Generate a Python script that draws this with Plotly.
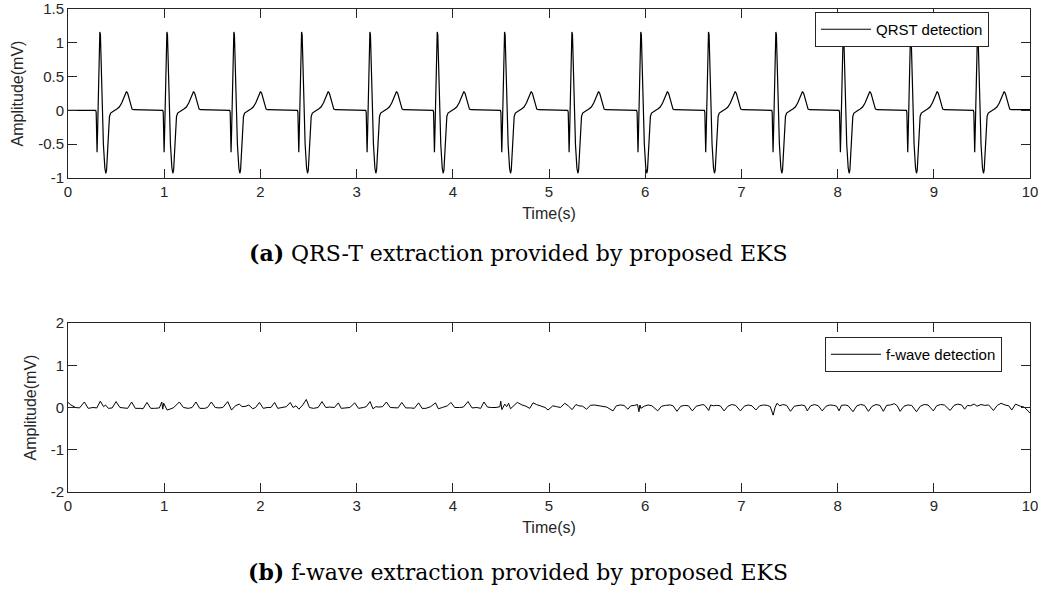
import plotly.graph_objects as go

# ---------------- data ----------------
# R-peak times of the 14 extracted QRS-T complexes (s)
beat_times = [0.333, 1.03, 1.726, 2.43, 3.14, 3.84, 4.54, 5.24, 5.956, 6.66, 7.36, 8.06, 8.76, 9.456]
# one complex, sampled relative to its R peak (s) and its amplitude (mV)
beat_offsets = [-0.060, -0.045, -0.040, -0.036, -0.031, -0.026, -0.018, -0.008, -0.002, 0.004,
                0.012, 0.022, 0.035, 0.050, 0.060, 0.068, 0.078, 0.088, 0.098, 0.110,
                0.125, 0.150, 0.175, 0.200, 0.225, 0.245, 0.262, 0.275, 0.288, 0.303,
                0.318, 0.333, 0.350]
beat_values = [0.0, 0.0, -0.03, -0.25, -0.62, -0.35, 0.30, 0.95, 1.16, 1.12,
               0.60, 0.0, -0.50, -0.85, -0.93, -0.88, -0.55, -0.22, -0.09, -0.04,
               -0.02, 0.00, 0.02, 0.05, 0.11, 0.19, 0.26, 0.28, 0.25, 0.16,
               0.07, 0.02, 0.01]

# f-wave trace vertices (s, mV)
fwave_t = [0.00, 0.03, 0.08, 0.12, 0.17, 0.21, 0.26, 0.30, 0.336, 0.37, 0.39, 0.42, 0.46, 0.499,
           0.54, 0.58, 0.62, 0.662, 0.70, 0.75, 0.78, 0.821, 0.86, 0.90, 0.95, 0.975, 0.985, 0.995,
           1.03, 1.07, 1.10, 1.157, 1.20, 1.25, 1.29, 1.33, 1.37, 1.42, 1.45, 1.49, 1.53, 1.57,
           1.61, 1.66, 1.70, 1.74, 1.78, 1.81, 1.85, 1.88, 1.92, 1.95, 1.99, 2.03, 2.07, 2.11,
           2.148, 2.18, 2.23, 2.27, 2.31, 2.34, 2.37, 2.40, 2.44, 2.477, 2.51, 2.55, 2.60, 2.64,
           2.68, 2.72, 2.77, 2.81, 2.84, 2.89, 2.93, 2.98, 3.02, 3.07, 3.10, 3.14, 3.17, 3.20,
           3.23, 3.27, 3.31, 3.35, 3.40, 3.43, 3.47, 3.51, 3.56, 3.60, 3.645, 3.68, 3.72, 3.77,
           3.82, 3.85, 3.89, 3.92, 3.945, 3.98, 4.02, 4.07, 4.11, 4.158, 4.20, 4.25, 4.29, 4.324,
           4.36, 4.40, 4.45, 4.49, 4.498, 4.51, 4.54, 4.56, 4.58, 4.60, 4.63, 4.67, 4.72, 4.76,
           4.80, 4.834, 4.87, 4.92, 4.96, 4.99, 5.04, 5.08, 5.12, 5.163, 5.20, 5.24, 5.28, 5.31,
           5.35, 5.39, 5.43, 5.47, 5.51, 5.55, 5.60, 5.665, 5.70, 5.74, 5.78, 5.82, 5.85, 5.89,
           5.92, 5.935, 5.945, 5.955, 5.99, 6.03, 6.07, 6.13, 6.17, 6.21, 6.26, 6.29, 6.33, 6.37,
           6.41, 6.45, 6.49, 6.53, 6.57, 6.60, 6.62, 6.66, 6.68, 6.71, 6.74, 6.78, 6.82, 6.86,
           6.90, 6.94, 6.99, 7.03, 7.07, 7.11, 7.15, 7.19, 7.23, 7.27, 7.30, 7.33, 7.35, 7.37,
           7.40, 7.43, 7.47, 7.51, 7.55, 7.59, 7.63, 7.66, 7.685, 7.72, 7.76, 7.80, 7.84, 7.88,
           7.92, 7.96, 7.99, 8.015, 8.04, 8.08, 8.11, 8.16, 8.20, 8.24, 8.28, 8.32, 8.36, 8.40,
           8.44, 8.475, 8.51, 8.55, 8.59, 8.62, 8.65, 8.69, 8.73, 8.77, 8.82, 8.86, 8.90, 8.94,
           8.995, 9.03, 9.07, 9.11, 9.17, 9.21, 9.25, 9.29, 9.32, 9.35, 9.38, 9.42, 9.45, 9.49,
           9.53, 9.57, 9.62, 9.66, 9.70, 9.74, 9.78, 9.81, 9.85, 9.90, 9.94, 10.0]
fwave_v = [0.12, 0.06, 0.00, -0.01, 0.13, -0.02, 0.00, -0.01, 0.15, 0.02, 0.06, -0.02, -0.01, 0.14,
           0.00, -0.01, -0.02, 0.13, -0.02, -0.02, -0.03, 0.12, -0.02, -0.02, -0.01, 0.13, -0.04, 0.10,
           -0.06, -0.03, 0.00, 0.13, 0.00, -0.02, 0.00, 0.13, -0.02, -0.02, 0.00, 0.13, 0.00, -0.01,
           0.00, 0.14, -0.06, 0.04, 0.08, 0.02, 0.03, 0.06, -0.03, 0.00, 0.12, -0.02, 0.00, 0.00,
           0.12, -0.02, 0.00, 0.02, 0.12, 0.00, 0.04, -0.04, 0.06, 0.19, 0.00, -0.02, 0.00, 0.14,
           0.00, 0.01, 0.00, 0.11, -0.02, -0.01, 0.00, 0.11, -0.02, 0.00, 0.02, 0.14, -0.03, 0.02,
           0.01, 0.02, 0.13, 0.00, 0.00, -0.01, 0.12, -0.01, -0.01, -0.02, 0.11, -0.02, -0.02, 0.02,
           0.11, -0.03, 0.00, 0.02, 0.04, 0.12, 0.00, 0.00, 0.01, 0.14, -0.01, 0.00, -0.02, 0.13,
           0.01, 0.00, 0.00, 0.02, 0.15, -0.05, 0.08, 0.02, 0.10, -0.03, 0.04, 0.12, 0.06, 0.03,
           -0.02, 0.11, 0.07, 0.04, 0.00, -0.06, 0.04, 0.02, 0.00, 0.10, 0.04, -0.05, 0.07, 0.04,
           0.03, -0.04, 0.05, 0.06, 0.04, 0.03, 0.01, -0.08, 0.04, 0.06, 0.05, -0.04, 0.04, 0.05,
           0.07, -0.10, 0.06, -0.02, 0.03, 0.06, 0.04, -0.08, 0.03, 0.05, 0.06, 0.04, -0.09, 0.03,
           0.05, 0.04, -0.08, 0.03, 0.06, 0.07, 0.05, -0.07, 0.06, 0.04, 0.05, 0.04, -0.08, 0.03,
           0.07, 0.05, -0.08, 0.03, 0.06, 0.04, -0.06, 0.04, 0.06, 0.05, 0.02, -0.18, 0.00, 0.10,
           0.04, 0.07, 0.05, -0.09, 0.03, 0.05, 0.06, 0.04, -0.08, 0.04, 0.07, 0.04, -0.08, 0.03,
           0.06, 0.05, 0.03, -0.08, 0.05, 0.06, 0.04, -0.10, 0.04, 0.07, 0.05, -0.09, 0.03, 0.07,
           0.05, -0.09, 0.05, 0.06, 0.09, 0.04, -0.09, 0.03, 0.06, 0.05, -0.10, 0.03, 0.07, 0.06,
           -0.08, 0.04, 0.07, 0.06, -0.07, 0.05, 0.08, 0.06, -0.04, 0.05, 0.04, 0.08, 0.03, 0.07,
           0.05, 0.06, -0.07, 0.05, 0.10, 0.06, 0.04, -0.06, 0.08, 0.03, 0.01, -0.13]

x_ticks = [0, 1, 2, 3, 4, 5, 6, 7, 8, 9, 10]
x_ticktext = ["0", "1", "2", "3", "4", "5", "6", "7", "8", "9", "10"]
top_yticks = [-1, -0.5, 0, 0.5, 1, 1.5]
top_yticktext = ["-1", "-0.5", "0", "0.5", "1", "1.5"]
bot_yticks = [-2, -1, 0, 1, 2]
bot_yticktext = ["-2", "-1", "0", "1", "2"]

# ---------------- assemble QRST trace from the beat template ----------------
qrst_t = [0.0]
qrst_v = [0.0]
for r in beat_times:
    for off, val in zip(beat_offsets, beat_values):
        qrst_t.append(r + off)
        qrst_v.append(val)
qrst_t.append(10.0)
qrst_v.append(beat_values[-1])

# ---------------- figure ----------------
AX = "#262626"
FONT = "Liberation Sans, Arial, sans-serif"

TOP, BOT = 9, 100
PH = 592 - TOP - BOT   # plotting height in px


def py(px):
    """paper y fraction for a pixel row"""
    return (592 - BOT - px) / PH


fig = go.Figure()
fig.add_trace(go.Scatter(x=qrst_t, y=qrst_v, mode="lines", name="QRST detection",
                         line=dict(color="black", width=1.2), xaxis="x", yaxis="y",
                         legend="legend"))
fig.add_trace(go.Scatter(x=fwave_t, y=fwave_v, mode="lines", name="f-wave detection",
                         line=dict(color="black", width=1.0), xaxis="x2", yaxis="y2",
                         legend="legend2"))

axis_common = dict(showgrid=False, zeroline=False, showline=True, linecolor=AX, linewidth=1,
                   mirror="ticks", ticks="inside", ticklen=9, tickwidth=1, tickcolor=AX,
                   ticklabeloverflow="allow", automargin=False,
                   tickfont=dict(family=FONT, size=15, color=AX))

top_dom = [py(178), 1.0]
bot_dom = [0.0, py(323)]
title_font = dict(family=FONT, size=16, color=AX)

fig.update_layout(
    width=1038, height=592,
    margin=dict(l=68, r=8, t=TOP, b=BOT),
    paper_bgcolor="white", plot_bgcolor="white",
    xaxis=dict(range=[0, 10], domain=[0, 1], anchor="y", tickvals=x_ticks, ticktext=x_ticktext,
               title=dict(text="Time(s)", font=title_font, standoff=8),
               **axis_common),
    yaxis=dict(range=[-1, 1.5], domain=top_dom, anchor="x", tickvals=top_yticks,
               ticktext=top_yticktext,
               title=dict(text="Amplitude(mV)", font=title_font, standoff=10),
               **axis_common),
    xaxis2=dict(range=[0, 10], domain=[0, 1], anchor="y2", tickvals=x_ticks, ticktext=x_ticktext,
                title=dict(text="Time(s)", font=title_font, standoff=8),
                **axis_common),
    yaxis2=dict(range=[-2, 2], domain=bot_dom, anchor="x2", tickvals=bot_yticks,
                ticktext=bot_yticktext,
                title=dict(text="Amplitude(mV)", font=title_font, standoff=10),
                **axis_common),
    legend=dict(x=(815 - 68) / 962, y=py(12), xanchor="left", yanchor="top",
                bgcolor="white", bordercolor=AX, borderwidth=1, itemwidth=50,
                font=dict(family=FONT, size=15, color="black")),
    legend2=dict(x=(825 - 68) / 962, y=py(337), xanchor="left", yanchor="top",
                 bgcolor="white", bordercolor=AX, borderwidth=1, itemwidth=50,
                 font=dict(family=FONT, size=15, color="black")),
    showlegend=True,
)

CAP_FONT = "DejaVu Serif, Liberation Serif, serif"
fig.add_annotation(text="<b>(a)</b> QRS-T extraction provided by proposed EKS",
                   x=(518 - 68) / 962, y=py(253), xref="paper", yref="paper",
                   xanchor="center", yanchor="middle", showarrow=False,
                   font=dict(family=CAP_FONT, size=22, color="black"))
fig.add_annotation(text="<b>(b)</b> f-wave extraction provided by proposed EKS",
                   x=(518 - 68) / 962, y=py(572), xref="paper", yref="paper",
                   xanchor="center", yanchor="middle", showarrow=False,
                   font=dict(family=CAP_FONT, size=22, color="black"))

fig.write_html("out.html")
